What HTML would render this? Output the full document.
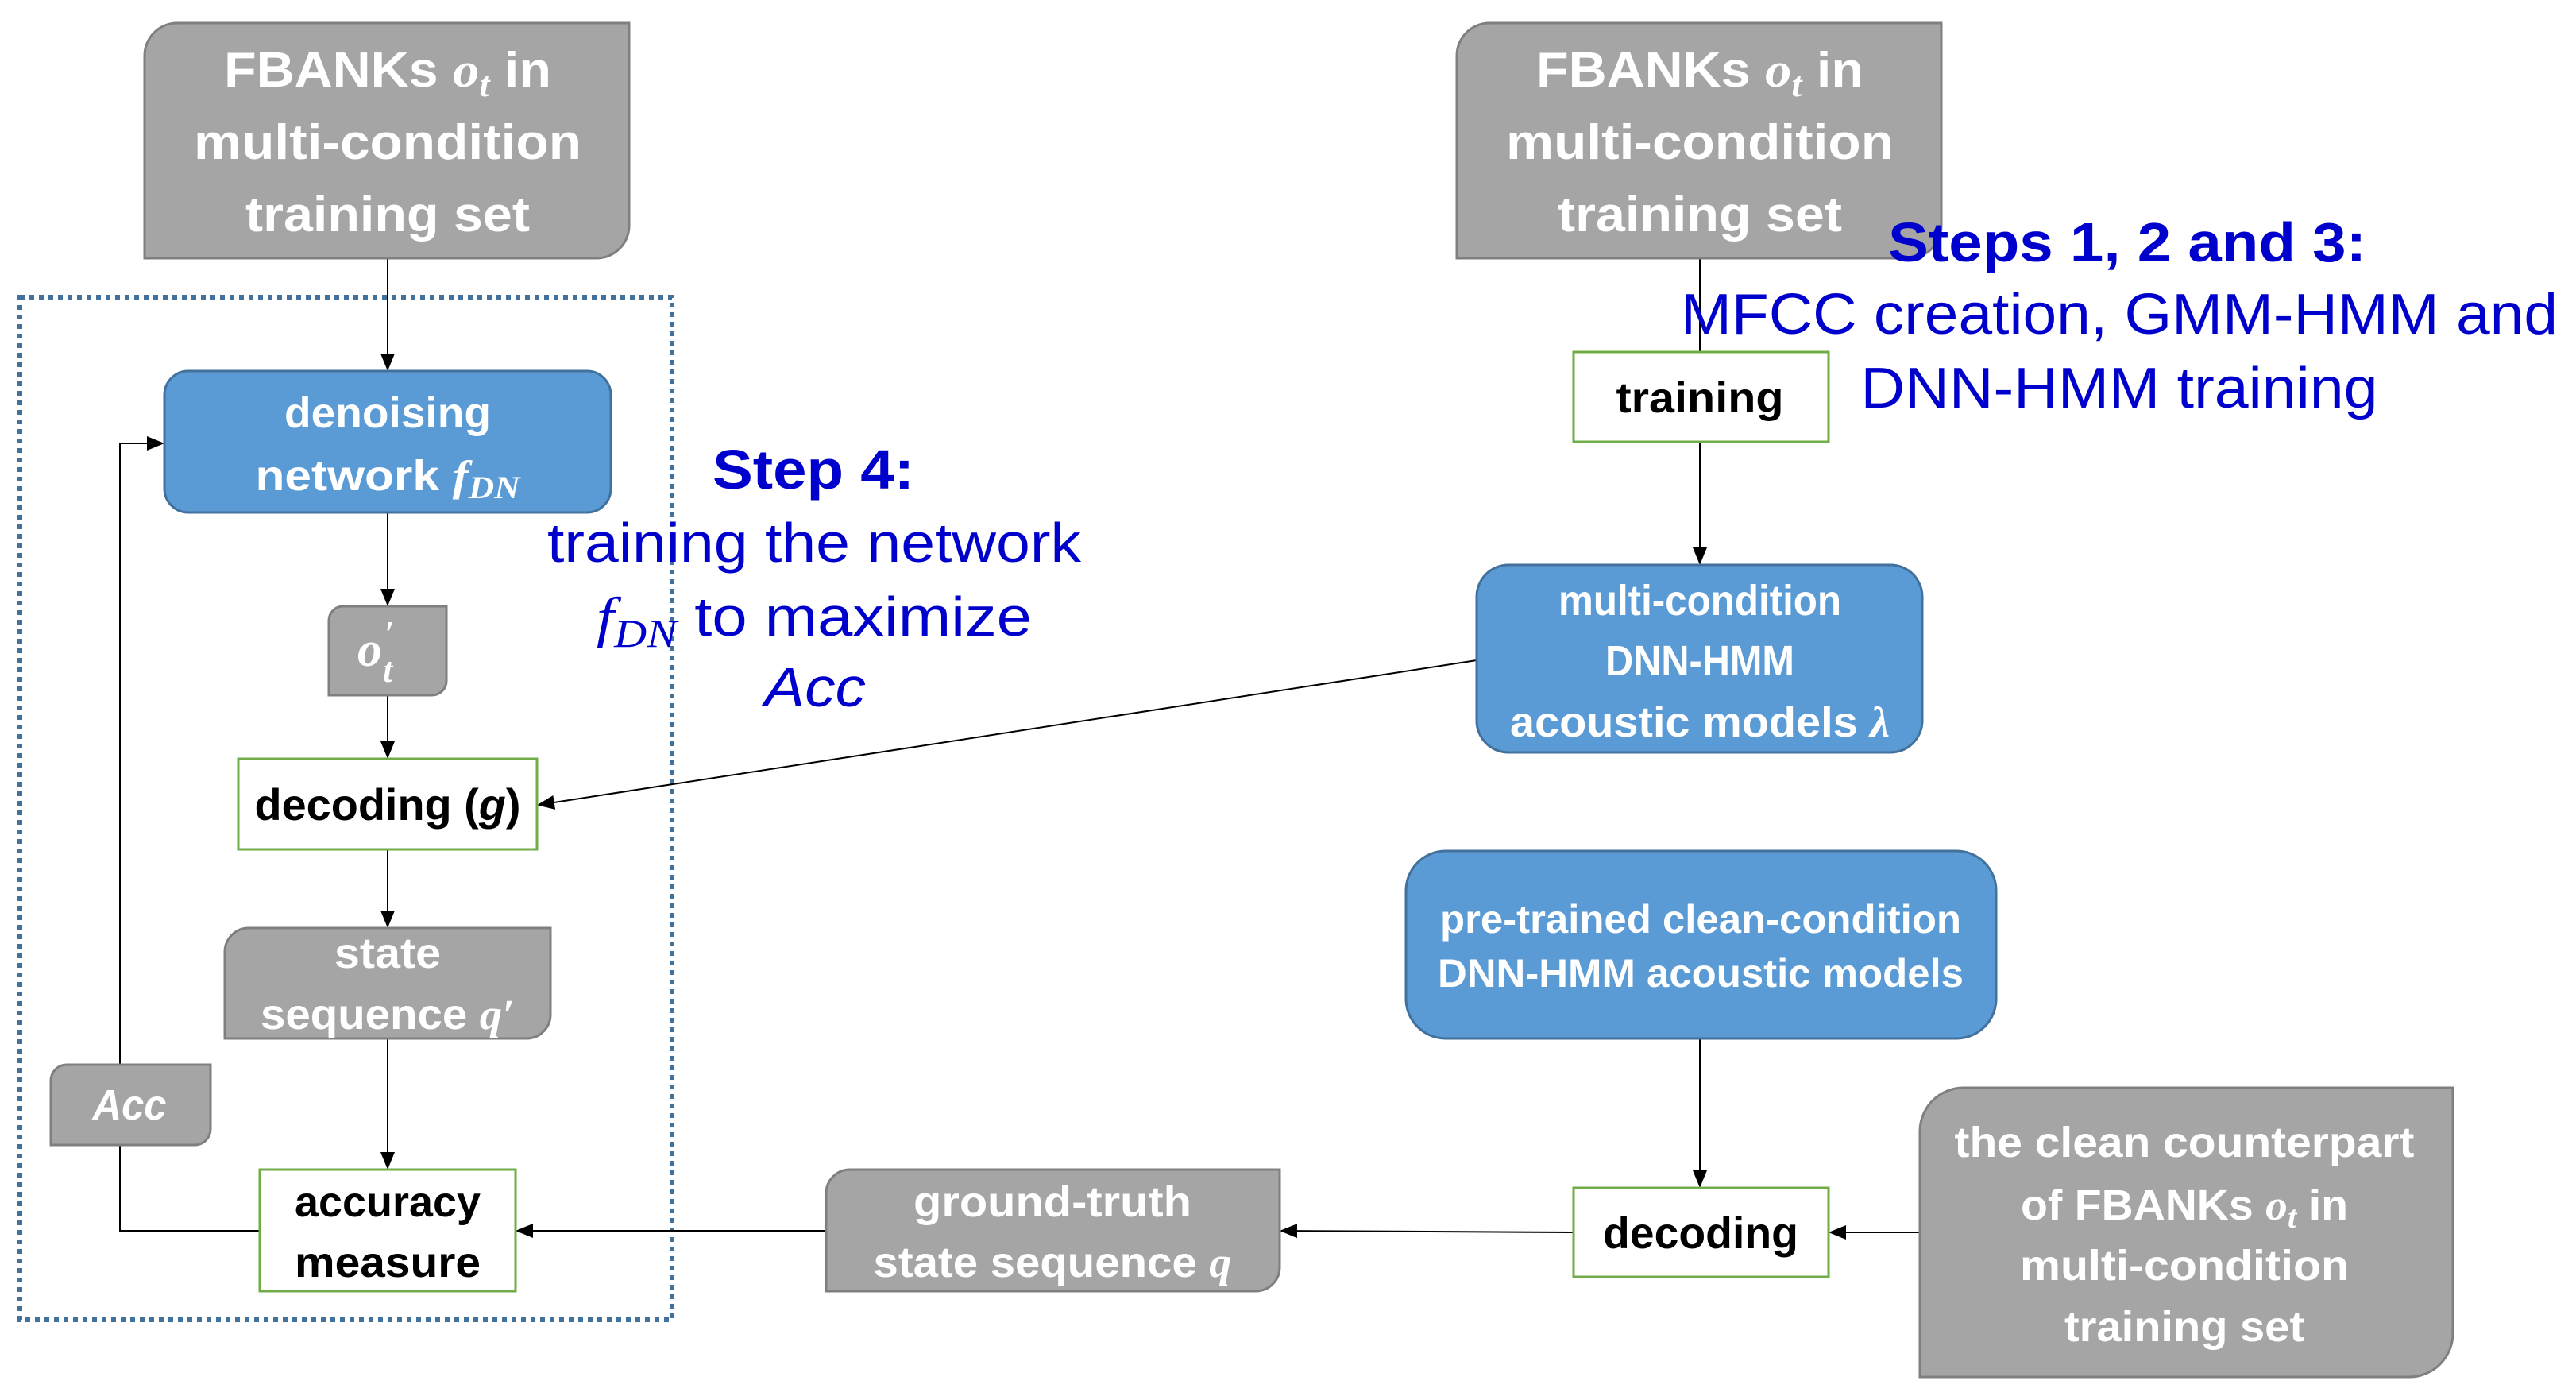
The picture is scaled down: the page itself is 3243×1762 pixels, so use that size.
<!DOCTYPE html>
<html><head><meta charset="utf-8"><style>html,body{margin:0;padding:0;background:#fff}svg{display:block}</style></head>
<body>
<svg width="3243" height="1762" viewBox="0 0 3243 1762" xmlns="http://www.w3.org/2000/svg">
<defs>
<marker id="ah" markerWidth="10" markerHeight="10" refX="9" refY="5" orient="auto" markerUnits="userSpaceOnUse" viewBox="0 0 10 10"><path d="M0,0 L10,5 L0,10 z" fill="#000"/></marker>
<marker id="a2" markerWidth="22" markerHeight="22" refX="20" refY="11" orient="auto" markerUnits="userSpaceOnUse" viewBox="0 0 22 22"><path d="M0,2 L22,11 L0,20 z" fill="#000"/></marker>
</defs>
<style>
.g{fill:#a5a5a5;stroke:#7f7f7f;stroke-width:3}
.b{fill:#5b9bd5;stroke:#41719c;stroke-width:3}
.w{fill:#fff;stroke:#70ad47;stroke-width:3}
.ln{stroke:#000;stroke-width:2;fill:none}
.t{font-family:"Liberation Sans",sans-serif;font-weight:bold;text-anchor:middle}
.wt{fill:#fff}
.bk{fill:#000}
.m{font-family:"Liberation Serif",serif;font-style:italic;font-weight:bold}
.bl{fill:#0000cc;font-family:"Liberation Sans",sans-serif;text-anchor:middle}
</style>

<!-- dotted frame -->
<rect x="25" y="374" width="821" height="1287" fill="none" stroke="#41719c" stroke-width="6" stroke-dasharray="6 6"/>

<!-- connectors -->
<line class="ln" x1="488" y1="325" x2="488" y2="465" marker-end="url(#a2)"/>
<line class="ln" x1="488" y1="645" x2="488" y2="761" marker-end="url(#a2)"/>
<line class="ln" x1="488" y1="875" x2="488" y2="953" marker-end="url(#a2)"/>
<line class="ln" x1="488" y1="1069" x2="488" y2="1166" marker-end="url(#a2)"/>
<line class="ln" x1="488" y1="1307" x2="488" y2="1470" marker-end="url(#a2)"/>
<polyline class="ln" points="327,1549 151,1549 151,558 205,558" marker-end="url(#a2)"/>
<line class="ln" x1="1040" y1="1549" x2="651" y2="1549" marker-end="url(#a2)"/>
<line class="ln" x1="1981" y1="1551" x2="1613" y2="1549" marker-end="url(#a2)"/>
<line class="ln" x1="2417" y1="1551" x2="2304" y2="1551" marker-end="url(#a2)"/>
<line class="ln" x1="2140" y1="1307" x2="2140" y2="1493" marker-end="url(#a2)"/>
<line class="ln" x1="2140" y1="325" x2="2140" y2="443"/>
<line class="ln" x1="2140" y1="556" x2="2140" y2="709" marker-end="url(#a2)"/>
<line class="ln" x1="1859" y1="831" x2="678" y2="1013" marker-end="url(#a2)"/>

<!-- left FBANK -->
<path class="g" d="M223,29 H792 V284 A41,41 0 0 1 751,325 H182 V70 A41,41 0 0 1 223,29 Z"/>
<text class="t wt" font-size="62" x="488" y="109" textLength="412" lengthAdjust="spacingAndGlyphs">FBANKs <tspan class="m">o</tspan><tspan class="m" font-size="44" dy="12">t</tspan><tspan dy="-12"> in</tspan></text>
<text class="t wt" font-size="62" x="488" y="200" textLength="488" lengthAdjust="spacingAndGlyphs">multi-condition</text>
<text class="t wt" font-size="62" x="488" y="291" textLength="358" lengthAdjust="spacingAndGlyphs">training set</text>

<!-- right FBANK -->
<path class="g" d="M1875,29 H2444 V284 A41,41 0 0 1 2403,325 H1834 V70 A41,41 0 0 1 1875,29 Z"/>
<text class="t wt" font-size="62" x="2140" y="109" textLength="412" lengthAdjust="spacingAndGlyphs">FBANKs <tspan class="m">o</tspan><tspan class="m" font-size="44" dy="12">t</tspan><tspan dy="-12"> in</tspan></text>
<text class="t wt" font-size="62" x="2140" y="200" textLength="488" lengthAdjust="spacingAndGlyphs">multi-condition</text>
<text class="t wt" font-size="62" x="2140" y="291" textLength="358" lengthAdjust="spacingAndGlyphs">training set</text>

<!-- denoising -->
<rect class="b" x="207" y="467" width="562" height="178" rx="30"/>
<text class="t wt" font-size="54" x="488" y="538" textLength="260" lengthAdjust="spacingAndGlyphs">denoising</text>
<text class="t wt" font-size="54" x="488" y="617" textLength="333" lengthAdjust="spacingAndGlyphs">network <tspan class="m">f</tspan><tspan class="m" font-size="40" dy="10">DN</tspan></text>

<!-- o't -->
<path class="g" d="M432,763 H562 V857 A18,18 0 0 1 544,875 H414 V781 A18,18 0 0 1 432,763 Z"/>
<text class="m wt" font-size="62" x="450" y="838">o</text><text class="m wt" font-size="44" x="482" y="858">t</text><text class="m wt" font-size="44" x="484" y="812">′</text>

<!-- decoding (g) -->
<rect class="w" x="300" y="955" width="376" height="114"/>
<text class="t bk" font-size="56" x="488" y="1032" textLength="335" lengthAdjust="spacingAndGlyphs">decoding (<tspan font-style="italic">g</tspan>)</text>

<!-- state sequence q' -->
<path class="g" d="M313,1168 H693 V1277 A30,30 0 0 1 663,1307 H283 V1198 A30,30 0 0 1 313,1168 Z"/>
<text class="t wt" font-size="54" x="488" y="1218" textLength="134" lengthAdjust="spacingAndGlyphs">state</text>
<text class="t wt" font-size="54" x="488" y="1295" textLength="320" lengthAdjust="spacingAndGlyphs">sequence <tspan class="m">q′</tspan></text>

<!-- Acc -->
<path class="g" d="M84,1340 H265 V1421 A20,20 0 0 1 245,1441 H64 V1360 A20,20 0 0 1 84,1340 Z"/>
<text class="t wt" font-size="54" font-style="italic" x="163" y="1409" textLength="93" lengthAdjust="spacingAndGlyphs">Acc</text>

<!-- accuracy measure -->
<rect class="w" x="327" y="1472" width="322" height="153"/>
<text class="t bk" font-size="54" x="488" y="1531" textLength="234" lengthAdjust="spacingAndGlyphs">accuracy</text>
<text class="t bk" font-size="54" x="488" y="1607" textLength="234" lengthAdjust="spacingAndGlyphs">measure</text>

<!-- ground-truth -->
<path class="g" d="M1070,1472 H1611 V1595 A30,30 0 0 1 1581,1625 H1040 V1502 A30,30 0 0 1 1070,1472 Z"/>
<text class="t wt" font-size="54" x="1325" y="1531" textLength="350" lengthAdjust="spacingAndGlyphs">ground-truth</text>
<text class="t wt" font-size="54" x="1325" y="1607" textLength="451" lengthAdjust="spacingAndGlyphs">state sequence <tspan class="m">q</tspan></text>

<!-- training -->
<rect class="w" x="1981" y="443" width="321" height="113"/>
<text class="t bk" font-size="54" x="2140" y="519" textLength="211" lengthAdjust="spacingAndGlyphs">training</text>

<!-- multi-condition DNN-HMM -->
<rect class="b" x="1859" y="711" width="561" height="236" rx="40"/>
<text class="t wt" font-size="54" x="2140" y="774" textLength="356" lengthAdjust="spacingAndGlyphs">multi-condition</text>
<text class="t wt" font-size="54" x="2140" y="850" textLength="238" lengthAdjust="spacingAndGlyphs">DNN-HMM</text>
<text class="t wt" font-size="54" x="2140" y="927" textLength="478" lengthAdjust="spacingAndGlyphs">acoustic models <tspan class="m">λ</tspan></text>

<!-- pre-trained -->
<rect class="b" x="1770" y="1071" width="743" height="236" rx="50"/>
<text class="t wt" font-size="50" x="2141" y="1174" textLength="656" lengthAdjust="spacingAndGlyphs">pre-trained clean-condition</text>
<text class="t wt" font-size="50" x="2141" y="1242" textLength="662" lengthAdjust="spacingAndGlyphs">DNN-HMM acoustic models</text>

<!-- decoding right -->
<rect class="w" x="1981" y="1495" width="321" height="112"/>
<text class="t bk" font-size="56" x="2141" y="1571" textLength="246" lengthAdjust="spacingAndGlyphs">decoding</text>

<!-- clean counterpart -->
<path class="g" d="M2472,1369 H3088 V1678 A55,55 0 0 1 3033,1733 H2417 V1424 A55,55 0 0 1 2472,1369 Z"/>
<text class="t wt" font-size="54" x="2750" y="1456" textLength="579" lengthAdjust="spacingAndGlyphs">the clean counterpart</text>
<text class="t wt" font-size="54" x="2750" y="1535" textLength="412" lengthAdjust="spacingAndGlyphs">of FBANKs <tspan class="m">o</tspan><tspan class="m" font-size="40" dy="10">t</tspan><tspan dy="-10"> in</tspan></text>
<text class="t wt" font-size="54" x="2750" y="1611" textLength="414" lengthAdjust="spacingAndGlyphs">multi-condition</text>
<text class="t wt" font-size="54" x="2750" y="1688" textLength="302" lengthAdjust="spacingAndGlyphs">training set</text>

<!-- Step 4 annotation -->
<text class="bl" font-size="70" font-weight="bold" x="1024" y="615" textLength="254" lengthAdjust="spacingAndGlyphs">Step 4:</text>
<text class="bl" font-size="70" x="1025" y="707" textLength="672" lengthAdjust="spacingAndGlyphs">training the network</text>
<text class="bl" font-size="70" x="1025" y="800" textLength="548" lengthAdjust="spacingAndGlyphs"><tspan font-family="Liberation Serif" font-style="italic">f</tspan><tspan font-family="Liberation Serif" font-style="italic" font-size="50" dy="14">DN</tspan><tspan dy="-14"> to maximize</tspan></text>
<text class="bl" font-size="70" font-style="italic" x="1026" y="889" textLength="128" lengthAdjust="spacingAndGlyphs">Acc</text>

<!-- Steps 1,2,3 annotation -->
<text class="bl" font-size="70" font-weight="bold" x="2678" y="329" textLength="602" lengthAdjust="spacingAndGlyphs">Steps 1, 2 and 3:</text>
<text class="bl" font-size="72" x="2668" y="420" textLength="1104" lengthAdjust="spacingAndGlyphs">MFCC creation, GMM-HMM and</text>
<text class="bl" font-size="72" x="2668" y="513" textLength="651" lengthAdjust="spacingAndGlyphs">DNN-HMM training</text>
</svg>
</body></html>
